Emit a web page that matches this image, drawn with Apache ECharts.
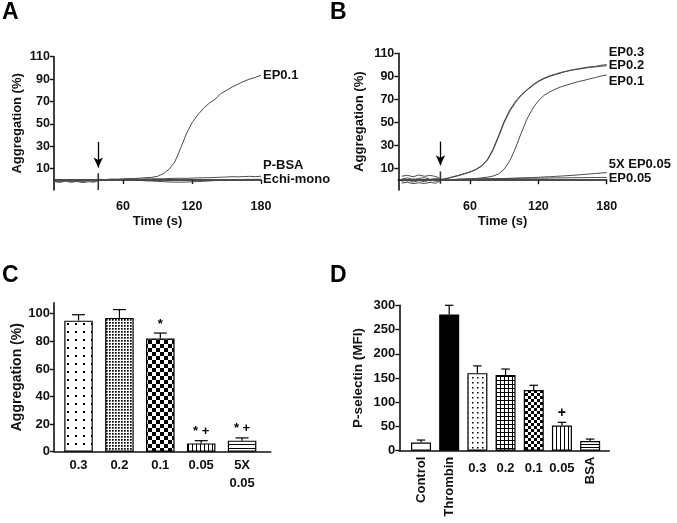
<!DOCTYPE html>
<html>
<head>
<meta charset="utf-8">
<script src="https://cdn.jsdelivr.net/npm/echarts@6/dist/echarts.min.js"></script>
<style>html,body{margin:0;padding:0;background:#fff}#c{width:677px;height:523px}</style>
</head>
<body>
<div id="c"></div>
<script>
// ---------- Panel A (aggregation traces) ----------
const timesA = [0,5,10,15,20,25,30,35,40,45,50,55,60,65,70,75,80,85,90,95,100,105,110,115,120,125,130,135,140,145,150,155,160,165,170,175,180];
const aEP01 = [0.5,-0.5,0.3,-0.8,0.2,-0.5,0.4,-0.3,0.5,0.3,0.8,0.6,1.0,1.2,1.3,1.6,2.0,2.3,3.2,5.5,9.5,16,28,41,51,58,64,68.5,72,77,80,83,85.5,88,90,91.5,93.5];
const aPBSA = [-1.5,-2.2,-1.2,-2,-1.4,-2.4,-1.6,-2,0,0.2,0.3,0.5,0.4,0.7,0.8,0.7,0.9,1.0,1.1,1.0,1.3,1.4,1.5,1.4,1.6,1.8,1.9,2.0,2.2,2.4,2.6,2.9,2.7,3.0,3.2,2.9,3.3];
const aEchi = [-0.8,-1.5,-0.6,-1.8,-1.0,-1.4,-0.7,-1.2,0,-0.2,0,0.2,0,-0.2,-0.3,-0.5,-0.8,-1.0,-1.3,-1.6,-1.8,-2.0,-2.0,-1.9,-1.7,-1.5,-1.2,-0.9,-0.6,-0.3,0,0.1,0.3,0.4,0.5,0.5,0.6];
const spikeTA = [38.5, 38.5];
const spikeVA = [6, -9];
const arrowTA = [38.5, 38.5];
const arrowVA = [34, 11];
const yTicksAB = [10,30,50,70,90,110];
const xTicksAB = [60,120,180];

// ---------- Panel B ----------
const timesB = [0,5,10,15,20,25,30,35,40,45,50,55,60,65,70,75,80,85,90,95,100,105,110,115,120,125,130,135,140,145,150,155,160,165,170,175,180];
const bEP03 = [3.5,4.2,3.0,4.5,3.4,4.1,3.2,0.8,1.8,3.0,4.3,5.8,7.3,9.3,12.5,17.5,26.5,38.5,51,61,68.5,74,78.5,82.5,86,88.5,90.5,92,93.5,94.5,95.8,96.5,97.5,98.2,98.6,99.6,100.2];
const bEP02 = [1.0,2.0,0.4,1.6,2.2,0.8,1.5,0.5,1.5,2.7,4.0,5.4,7.0,9.0,12.0,17.0,25.5,37.5,50,60,67.5,73.5,78,82,85.5,88,90,91.5,93,94.5,95.5,96.2,97,97.8,98.2,98.8,99.2];
const bEP01 = [-1.0,0.2,-1.6,-0.4,-1.2,0.3,-0.9,0,0.3,0.5,0.8,1.0,1.2,1.5,2.0,2.6,3.5,5.5,9.5,17,28,41,53,62,69,73.5,76.5,79,81,82.5,84,85.5,86.5,87.8,89,90.3,91.2];
const b5X = [-2.5,-1.8,-3.0,-2.2,-2.8,-1.9,-2.6,0.3,0.5,0.6,0.7,0.8,1.0,1.0,1.1,1.2,1.3,1.4,1.5,1.6,1.8,2.0,2.1,2.3,2.5,2.8,3.0,3.3,3.6,3.9,4.2,4.6,5.0,5.4,5.8,6.2,6.6];
const bEP005 = [0.5,-0.8,1.2,-0.2,0.6,-0.6,0.2,0,0.4,0.6,0.8,0.9,1.0,1.0,1.2,1.2,1.3,1.4,1.4,1.5,1.5,1.6,1.7,1.7,1.8,1.8,1.9,2.0,2.0,2.1,2.1,2.2,2.2,2.3,2.3,2.4,2.4];
const spikeTB = [34, 34];
const spikeVB = [7.5, -3];
const arrowTB = [34, 34];
const arrowVB = [33.5, 13];

// ---------- Panel C (bars) ----------
const catsC = ['0.3','0.2','0.1','0.05','5X\n0.05'];
const meanC = [95, 97, 82, 6, 8];
const semC  = [4.3, 6, 4, 2, 2];
const annC  = ['', '', '*', '* +', '* +'];
const yTicksC = [0,20,40,60,80,100];

// ---------- Panel D (bars) ----------
const catsD = ['Control','Thrombin','0.3','0.2','0.1','0.05','BSA'];
const meanD = [17, 281, 160, 156, 125, 52, 20];
const semD  = [5, 19, 15, 12.5, 10, 6.5, 4];
const annD  = ['', '', '', '', '', '+', ''];

const FONT = '"Liberation Sans", Arial, Helvetica, sans-serif';
const INK = '#111';
const TRACE = '#4a4a4a';

function pat(w, h, draw) {
  const c = document.createElement('canvas');
  c.width = w; c.height = h;
  const g = c.getContext('2d');
  g.fillStyle = '#fff'; g.fillRect(0, 0, w, h);
  g.fillStyle = '#000';
  draw(g);
  return { image: c, repeat: 'repeat' };
}
const patC = [
  pat(8, 8, g => g.fillRect(3, 3, 2, 2)),
  pat(3, 3, g => g.fillRect(1, 1, 1.7, 1.7)),
  pat(8, 8, g => { g.fillRect(0, 0, 4, 4); g.fillRect(4, 4, 4, 4); }),
  pat(4, 1, g => g.fillRect(0, 0, 1, 1)),
  pat(1, 4, g => g.fillRect(0, 0, 1, 1))
];
const patD = [
  '#ffffff',
  '#000000',
  pat(5, 5, g => g.fillRect(2, 2, 1.5, 1.5)),
  pat(4, 4, g => { g.fillRect(0, 0, 4, 1); g.fillRect(0, 0, 1, 4); }),
  pat(6, 6, g => { g.fillRect(0, 0, 3, 3); g.fillRect(3, 3, 3, 3); }),
  pat(4, 1, g => g.fillRect(0, 0, 1, 1)),
  pat(1, 3, g => g.fillRect(0, 0, 1, 1))
];

const axisLineStyle = { color: INK, width: 1.6 };

function zip(t, v) { return t.map((x, i) => [x, v[i]]); }

function trace(name, xi, t, v, offset) {
  return {
    type: 'line', name: name, xAxisIndex: xi, yAxisIndex: xi,
    data: zip(t, v), showSymbol: false, symbol: 'none', silent: true,
    lineStyle: { color: TRACE, width: 1 },
    endLabel: { show: true, formatter: name, distance: 2, offset: offset,
      color: INK, fontFamily: FONT, fontWeight: 'bold', fontSize: 13 },
    animation: false
  };
}
function spike(xi, t, v, at, av) {
  return {
    type: 'line', xAxisIndex: xi, yAxisIndex: xi, data: zip(t, v),
    showSymbol: false, symbol: 'none', silent: true,
    lineStyle: { color: '#333', width: 1.6 }, animation: false,
    markLine: {
      silent: true, animation: false, symbolSize: [7, 10],
      lineStyle: { color: '#000', width: 1.3, type: 'solid' },
      label: { show: false },
      data: [[{ coord: [at[0], av[0]], symbol: 'none' }, { coord: [at[1], av[1]], symbol: 'arrow' }]]
    }
  };
}
function errRender(ann, capW, fs) {
  return function (params, api) {
    const x = api.value(0), m = api.value(1), e = api.value(2);
    const p0 = api.coord([x, m]), p1 = api.coord([x, e]);
    const ch = [
      { type: 'line', shape: { x1: p0[0], y1: p0[1], x2: p1[0], y2: p1[1] }, style: { stroke: '#000', lineWidth: 1.2 } },
      { type: 'line', shape: { x1: p1[0] - capW / 2, y1: p1[1], x2: p1[0] + capW / 2, y2: p1[1] }, style: { stroke: '#000', lineWidth: 1.2 } }
    ];
    const t = ann[params.dataIndex];
    if (t) ch.push({ type: 'text', x: p1[0], y: p1[1] - 9,
      style: { text: t, fill: '#000', font: 'bold ' + fs + 'px ' + FONT, align: 'center', verticalAlign: 'middle' } });
    return { type: 'group', children: ch };
  };
}

function xAB(min, gi) {
  return {
    type: 'value', gridIndex: gi, min: min, max: 180,
    axisLine: { onZero: true, lineStyle: axisLineStyle },
    axisTick: { customValues: xTicksAB, length: 4, lineStyle: { color: INK, width: 1.4 } },
    axisLabel: { customValues: xTicksAB, margin: 10, color: INK, fontFamily: FONT, fontWeight: 'bold', fontSize: 12.5 },
    splitLine: { show: false },
    name: 'Time (s)', nameLocation: 'middle', nameGap: 25,
    nameTextStyle: { color: INK, fontFamily: FONT, fontWeight: 'bold', fontSize: 13 }
  };
}
function yAB(min, gi, gap) {
  return {
    type: 'value', gridIndex: gi, min: min, max: 110,
    axisLine: { show: true, onZero: false, lineStyle: axisLineStyle },
    axisTick: { show: true, customValues: yTicksAB, length: 4, lineStyle: { color: INK, width: 1.4 } },
    axisLabel: { customValues: yTicksAB, margin: 4, color: INK, fontFamily: FONT, fontWeight: 'bold', fontSize: 12.5 },
    splitLine: { show: false },
    name: 'Aggregation (%)', nameLocation: 'middle', nameGap: gap,
    nameTextStyle: { color: INK, fontFamily: FONT, fontWeight: 'bold', fontSize: 13 }
  };
}

const letterStyle = { color: '#000', fontFamily: FONT, fontWeight: 'bold', fontSize: 23 };

const option = {
  backgroundColor: '#fff',
  animation: false,
  title: [
    { text: 'A', left: 2, top: 1, padding: 0, textStyle: letterStyle },
    { text: 'B', left: 330, top: 1, padding: 0, textStyle: letterStyle },
    { text: 'C', left: 2, top: 264, padding: 0, textStyle: letterStyle },
    { text: 'D', left: 330, top: 264, padding: 0, textStyle: letterStyle }
  ],
  grid: [
    { left: 54, top: 56.7, width: 207, height: 133.3 },
    { left: 398.3, top: 53.3, width: 208.4, height: 136.7 },
    { left: 54, top: 302.7, width: 216.7, height: 149 },
    { left: 399.3, top: 305.3, width: 210, height: 145.4 }
  ],
  xAxis: [
    xAB(0, 0),
    xAB(-3, 1),
    {
      type: 'value', gridIndex: 2, min: -0.6, max: 4.7,
      axisLine: { onZero: false, lineStyle: axisLineStyle },
      axisTick: { show: false }, splitLine: { show: false },
      axisLabel: { customValues: [0,1,2,3,4], formatter: v => catsC[Math.round(v)], margin: 5,
        lineHeight: 18, color: INK, fontFamily: FONT, fontWeight: 'bold', fontSize: 13 }
    },
    {
      type: 'value', gridIndex: 3, min: -0.77, max: 6.68, position: 'bottom',
      axisLine: { onZero: false, lineStyle: axisLineStyle },
      axisTick: { show: false }, splitLine: { show: false },
      axisLabel: { customValues: [0,1,6], formatter: v => catsD[Math.round(v)], rotate: 90, margin: 6,
        color: INK, fontFamily: FONT, fontWeight: 'bold', fontSize: 13 }
    },
    {
      type: 'value', gridIndex: 3, min: -0.77, max: 6.68, position: 'bottom', offset: 0,
      axisLine: { show: false, onZero: false },
      axisTick: { show: false }, splitLine: { show: false },
      axisLabel: { customValues: [2,3,4,5], formatter: v => catsD[Math.round(v)], margin: 11,
        color: INK, fontFamily: FONT, fontWeight: 'bold', fontSize: 13 }
    }
  ],
  yAxis: [
    yAB(-9, 0, 30),
    yAB(-8.5, 1, 32),
    {
      type: 'value', gridIndex: 2, min: 0, max: 108,
      axisLine: { show: true, onZero: false, lineStyle: axisLineStyle },
      axisTick: { show: true, customValues: yTicksC, length: 4, lineStyle: { color: INK, width: 1.4 } },
      axisLabel: { customValues: yTicksC, margin: 4, color: INK, fontFamily: FONT, fontWeight: 'bold', fontSize: 13 },
      splitLine: { show: false },
      name: 'Aggregation (%)', nameLocation: 'middle', nameGap: 29,
      nameTextStyle: { color: INK, fontFamily: FONT, fontWeight: 'bold', fontSize: 14 }
    },
    {
      type: 'value', gridIndex: 3, min: 0, max: 300, interval: 50,
      axisLine: { show: true, onZero: false, lineStyle: axisLineStyle },
      axisTick: { show: true, length: 4, lineStyle: { color: INK, width: 1.4 } },
      axisLabel: { margin: 4, color: INK, fontFamily: FONT, fontWeight: 'bold', fontSize: 13 },
      splitLine: { show: false },
      name: 'P-selectin (MFI)', nameLocation: 'middle', nameGap: 34,
      nameTextStyle: { color: INK, fontFamily: FONT, fontWeight: 'bold', fontSize: 13.5 }
    }
  ],
  series: [
    trace('EP0.1', 0, timesA, aEP01, [0, 0]),
    trace('P-BSA', 0, timesA, aPBSA, [0, -11]),
    trace('Echi-mono', 0, timesA, aEchi, [0, 0]),
    spike(0, spikeTA, spikeVA, arrowTA, arrowVA),

    trace('EP0.3', 1, timesB, bEP03, [0, -12]),
    trace('EP0.2', 1, timesB, bEP02, [0, 0]),
    trace('EP0.1', 1, timesB, bEP01, [0, 6]),
    trace('5X EP0.05', 1, timesB, b5X, [0, -8]),
    trace('EP0.05', 1, timesB, bEP005, [0, 1]),
    spike(1, spikeTB, spikeVB, arrowTB, arrowVB),

    {
      type: 'bar', xAxisIndex: 2, yAxisIndex: 2, barWidth: 28.5, silent: true,
      itemStyle: { borderColor: '#000', borderWidth: 1.2 },
      data: meanC.map((v, i) => ({ value: [i, v], itemStyle: { color: patC[i] } }))
    },
    {
      type: 'custom', xAxisIndex: 2, yAxisIndex: 2, silent: true,
      renderItem: errRender(annC, 13, 13),
      data: meanC.map((v, i) => [i, v, v + semC[i]])
    },
    {
      type: 'bar', xAxisIndex: 3, yAxisIndex: 3, barWidth: 20, silent: true,
      itemStyle: { borderColor: '#000', borderWidth: 1.2 },
      data: meanD.map((v, i) => ({ value: [i, v], itemStyle: { color: patD[i] } }))
    },
    {
      type: 'custom', xAxisIndex: 3, yAxisIndex: 3, silent: true,
      renderItem: errRender(annD, 8.5, 14),
      data: meanD.map((v, i) => [i, v, v + semD[i]])
    }
  ]
};

const chart = echarts.init(document.getElementById('c'), null, { renderer: 'canvas' });
chart.setOption(option);
</script>
</body>
</html>
